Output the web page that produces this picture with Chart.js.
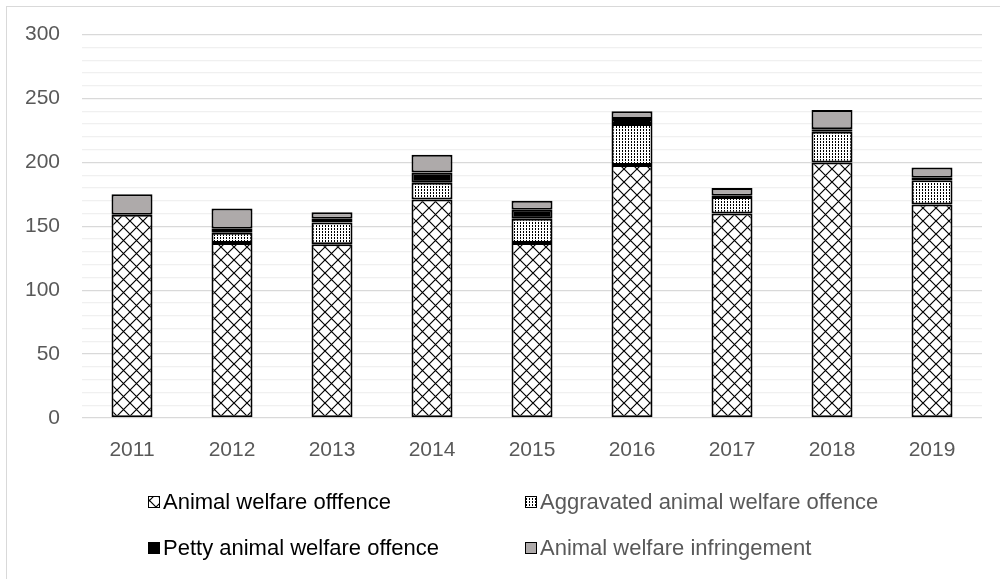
<!DOCTYPE html>
<html>
<head>
<meta charset="utf-8">
<script src="https://cdn.jsdelivr.net/npm/chart.js@4.4.1/dist/chart.umd.min.js"></script>
<style>
    html, body { margin: 0; padding: 0; background: #fff; }
    #wrap { width: 1000px; height: 579px; }
</style>
</head>
<body>
<div id="wrap"><canvas id="offenceChart" width="1000" height="579"></canvas></div>
<script>
// -------------------------------------------------
// Data
// -------------------------------------------------
const years = ['2011', '2012', '2013', '2014', '2015', '2016', '2017', '2018', '2019'];
const animalWelfare = [159, 137, 136, 171, 137, 198, 160, 200, 167];
const aggravated = [0, 8, 17, 13, 19, 32, 13, 24, 19];
const petty = [0, 3, 3, 8, 7, 4, 1, 2, 2];
const infringement = [16, 16, 5, 14, 7, 6, 6, 15, 8];
const seriesLabels = [
    'Animal welfare offfence',
    'Aggravated animal welfare offence',
    'Petty animal welfare offence',
    'Animal welfare infringement'
];
const yMax = 300;
const yMajorStep = 50;

const FONT = '"Liberation Sans", Arial, sans-serif';

// -------------------------------------------------
// Fill patterns (cross hatch and dots)
// -------------------------------------------------
function crossPattern() {
    const c = document.createElement('canvas');
    c.width = 13; c.height = 13;
    const g = c.getContext('2d');
    g.fillStyle = '#fff';
    g.fillRect(0, 0, 13, 13);
    g.strokeStyle = '#000';
    g.lineWidth = 1.2;
    g.beginPath();
    g.moveTo(0, 0); g.lineTo(13, 13);
    g.moveTo(13, 0); g.lineTo(0, 13);
    g.stroke();
    return g.createPattern(c, 'repeat');
}

function dotPattern() {
    const c = document.createElement('canvas');
    c.width = 3; c.height = 3;
    const g = c.getContext('2d');
    g.fillStyle = '#fff';
    g.fillRect(0, 0, 3, 3);
    g.fillStyle = '#000';
    g.fillRect(1, 0, 1, 2);
    return g.createPattern(c, 'repeat');
}

const fills = [crossPattern(), dotPattern(), '#000000', '#aeaaaa'];

// -------------------------------------------------
// Plugins: white background + frame, custom two-column legend
// -------------------------------------------------
const framePlugin = {
    id: 'frame',
    beforeDraw(chart) {
        const ctx = chart.ctx;
        ctx.save();
        ctx.fillStyle = '#fff';
        ctx.fillRect(0, 0, chart.width, chart.height);
        ctx.strokeStyle = '#d9d9d9';
        ctx.lineWidth = 1;
        ctx.strokeRect(6.5, 6.5, chart.width + 10, chart.height + 10);
        ctx.restore();
    }
};

const legendPlugin = {
    id: 'gridLegend',
    afterDraw(chart) {
        const ctx = chart.ctx;
        const colX = [148, 525];
        const rowY = [502, 548];
        const textColors = ['#000', '#595959', '#000', '#595959'];
        ctx.save();
        ctx.font = '22px ' + FONT;
        ctx.textBaseline = 'middle';
        chart.data.datasets.forEach((ds, i) => {
            const x = colX[i % 2];
            const y = rowY[Math.floor(i / 2)];
            ctx.fillStyle = ds.backgroundColor;
            ctx.fillRect(x, y - 6, 12, 12);
            ctx.strokeStyle = '#000';
            ctx.lineWidth = 1;
            ctx.strokeRect(x + 0.5, y - 5.5, 11, 11);
            ctx.fillStyle = textColors[i];
            ctx.fillText(ds.label, x + 15, y + 1);
        });
        ctx.restore();
    }
};

// -------------------------------------------------
// Stacked bar chart
// -------------------------------------------------
const seriesData = [animalWelfare, aggravated, petty, infringement];

new Chart(document.getElementById('offenceChart').getContext('2d'), {
    type: 'bar',
    data: {
        labels: years,
        datasets: seriesData.map((values, i) => ({
            label: seriesLabels[i],
            data: values,
            backgroundColor: fills[i],
            borderColor: '#000',
            borderWidth: 2,
            borderSkipped: false,
            barPercentage: 0.41,
            categoryPercentage: 1
        }))
    },
    options: {
        responsive: false,
        animation: false,
        events: [],
        layout: { padding: { top: 34, right: 18, left: 0, bottom: 0 } },
        plugins: {
            legend: { display: false },
            tooltip: { enabled: false }
        },
        scales: {
            x: {
                stacked: true,
                grid: { display: false, drawTicks: false },
                border: { display: false },
                ticks: {
                    color: '#595959',
                    font: { family: FONT, size: 21 },
                    padding: 20
                },
                afterFit: s => { s.height = 161; }
            },
            y: {
                stacked: true,
                min: 0,
                max: yMax,
                border: { display: false },
                grid: {
                    drawTicks: false,
                    lineWidth: 1.3,
                    color: c => (c.tick && c.tick.value % yMajorStep === 0) ? '#d9d9d9' : '#f0f0f0'
                },
                ticks: {
                    stepSize: 10,
                    autoSkip: false,
                    color: '#595959',
                    font: { family: FONT, size: 21 },
                    padding: 22,
                    callback: v => (v % yMajorStep === 0 ? String(v) : '')
                },
                afterFit: s => { s.width = 82; }
            }
        }
    },
    plugins: [framePlugin, legendPlugin]
});
</script>
</body>
</html>
